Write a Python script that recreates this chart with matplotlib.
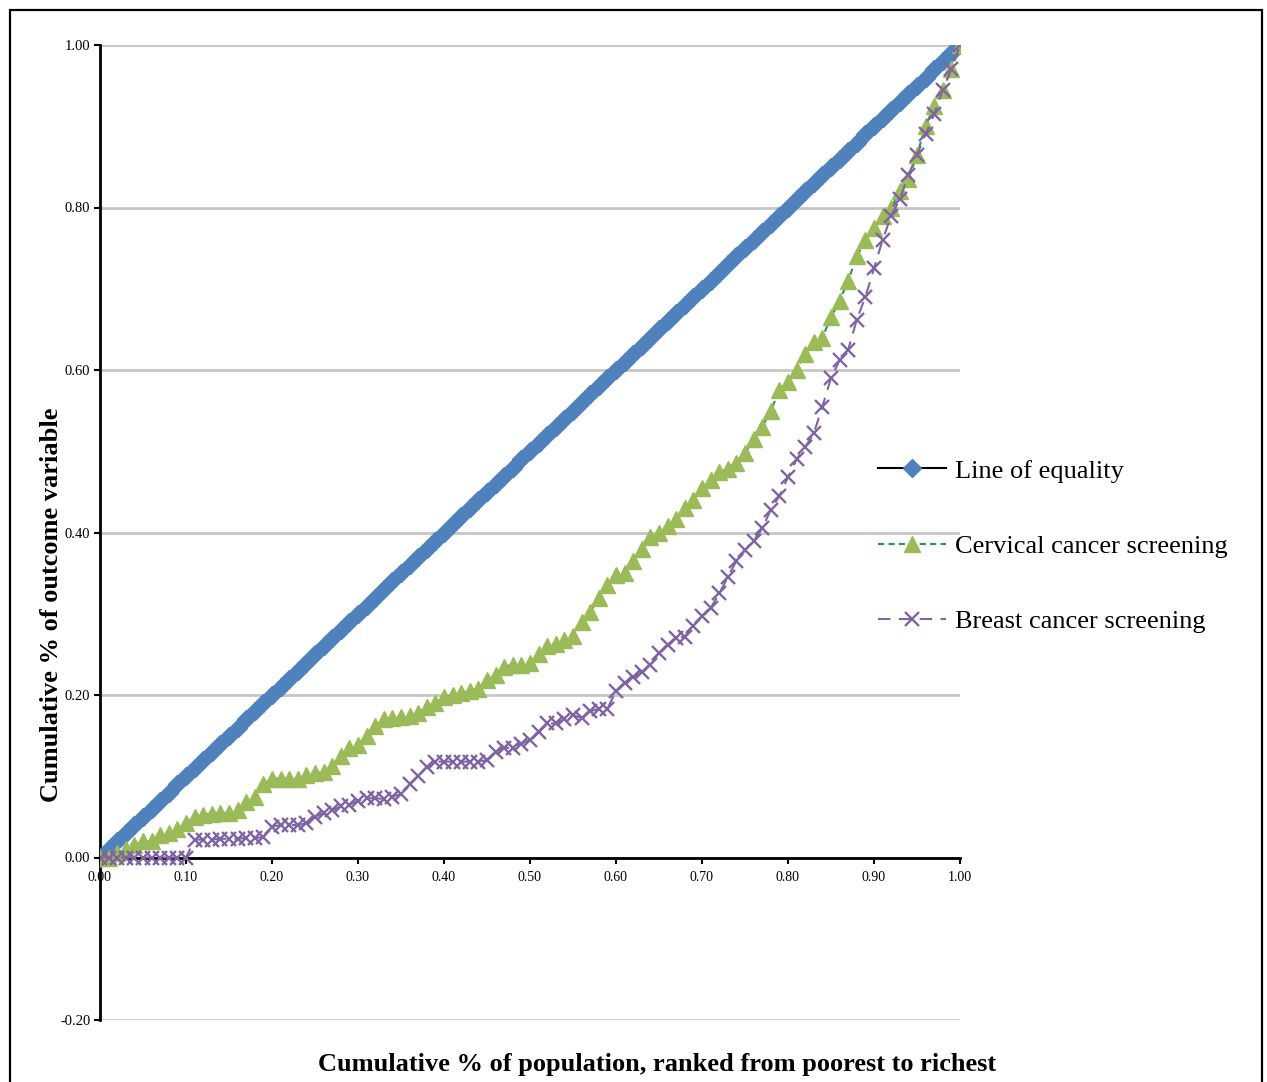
import matplotlib
matplotlib.use("Agg")
import matplotlib.pyplot as plt
from matplotlib.patches import Rectangle

# === DATA ===
# cumulative share of population (0.00 .. 1.00 in steps of 0.01)
bevoelkerung = [i / 100 for i in range(101)]

gleichheit = list(bevoelkerung)

cervical = [
    0.000, 0.000, 0.005, 0.010, 0.015, 0.020, 0.020, 0.028, 0.030, 0.035,
    0.042, 0.050, 0.052, 0.054, 0.055, 0.055, 0.058, 0.068, 0.075, 0.090,
    0.097, 0.097, 0.097, 0.097, 0.102, 0.104, 0.105, 0.113, 0.125, 0.135,
    0.138, 0.150, 0.162, 0.170, 0.172, 0.173, 0.174, 0.178, 0.185, 0.190,
    0.197, 0.200, 0.202, 0.205, 0.207, 0.218, 0.225, 0.235, 0.237, 0.237,
    0.240, 0.250, 0.260, 0.263, 0.268, 0.273, 0.290, 0.302, 0.320, 0.335,
    0.348, 0.350, 0.365, 0.380, 0.395, 0.400, 0.408, 0.417, 0.430, 0.440,
    0.455, 0.465, 0.475, 0.478, 0.485, 0.498, 0.515, 0.530, 0.550, 0.575,
    0.585, 0.600, 0.620, 0.635, 0.640, 0.665, 0.685, 0.710, 0.740, 0.760,
    0.775, 0.790, 0.800, 0.820, 0.835, 0.865, 0.900, 0.925, 0.945, 0.970,
    1.000,
]

breast = [
    0.000, 0.000, 0.000, 0.000, 0.000, 0.000, 0.000, 0.000, 0.000, 0.000,
    0.000, 0.022, 0.022, 0.022, 0.023, 0.023, 0.023, 0.024, 0.024, 0.025,
    0.038, 0.040, 0.040, 0.040, 0.042, 0.050, 0.055, 0.058, 0.063, 0.065,
    0.070, 0.073, 0.073, 0.072, 0.075, 0.078, 0.090, 0.100, 0.112, 0.118,
    0.118, 0.118, 0.118, 0.118, 0.118, 0.120, 0.130, 0.135, 0.135, 0.140,
    0.145, 0.155, 0.165, 0.165, 0.170, 0.175, 0.172, 0.180, 0.183, 0.183,
    0.205, 0.215, 0.222, 0.228, 0.237, 0.252, 0.262, 0.270, 0.272, 0.285,
    0.297, 0.307, 0.325, 0.345, 0.365, 0.378, 0.390, 0.405, 0.428, 0.445,
    0.468, 0.490, 0.505, 0.522, 0.555, 0.590, 0.612, 0.625, 0.662, 0.690,
    0.725, 0.760, 0.790, 0.810, 0.840, 0.865, 0.890, 0.915, 0.945, 0.970,
    1.000,
]

x_ticks = [0.0, 0.1, 0.2, 0.3, 0.4, 0.5, 0.6, 0.7, 0.8, 0.9, 1.0]
y_ticks = [-0.2, 0.0, 0.2, 0.4, 0.6, 0.8, 1.0]

plt.rcParams['font.family'] = ['Liberation Serif', 'DejaVu Serif']

W, H = 1267, 1082
fig = plt.figure(figsize=(W / 100, H / 100), dpi=100)
ax = fig.add_axes([100 / W, 1 - 1020 / H, 860 / W, 975 / H])

# outer frame of the chart area
fig.patches.append(Rectangle((10 / W, -0.01), 1252 / W, 1 - 10 / H + 0.01,
                             transform=fig.transFigure, fill=False,
                             edgecolor='black', linewidth=1.6))

# --- Kurven ---
ax.plot(bevoelkerung, gleichheit, color='black', linewidth=1.5,
        marker='D', markersize=9.5, markerfacecolor='#4F81BD',
        markeredgecolor='#4F81BD', label='Line of equality', zorder=3)
ax.plot(bevoelkerung, cervical, color='#1E9A5A', linewidth=1.5,
        linestyle=(0, (3, 2)), marker='^', markersize=11,
        markerfacecolor='#9BBB59', markeredgecolor='#9BBB59',
        label='Cervical cancer screening', zorder=4)
ax.plot(bevoelkerung, breast, color='#8064A2', linewidth=1.5,
        linestyle=(0, (6, 4)), marker='x', markersize=10, markeredgewidth=1.7,
        markerfacecolor='#8064A2', markeredgecolor='#8064A2',
        label='Breast cancer screening', zorder=5)

# --- Achsen ---
ax.set_xlim(0, 1)
ax.set_ylim(-0.2, 1.0)
ax.set_xticks(x_ticks)
ax.set_yticks(y_ticks)
ax.set_xticklabels([f'{v:.2f}' for v in x_ticks], fontsize=11)
ax.set_yticklabels([f'{v:.2f}' for v in y_ticks], fontsize=10.5)

ax.spines['top'].set_visible(False)
ax.spines['right'].set_visible(False)
ax.spines['left'].set_linewidth(2)
ax.spines['bottom'].set_linewidth(2)
ax.spines['bottom'].set_position(('data', 0))
ax.spines['bottom'].set_zorder(2)
ax.tick_params(axis='both', direction='out', length=4, width=1.5, pad=3)
ax.tick_params(axis='x', pad=6)

ax.grid(axis='y', color='#C6C6C6', linewidth=2)
ax.set_axisbelow(True)

# Beschriftung
fig.text(52 / W, 1 - 605 / H, 'Cumulative % of outcome variable',
         rotation=90, ha='center', va='center', fontsize=19,
         fontweight='bold')
fig.text(657 / W, 1 - 1064 / H,
         'Cumulative % of population, ranked from poorest to richest',
         ha='center', va='center', fontsize=19, fontweight='bold')

leg = ax.legend(loc='center left', bbox_to_anchor=(878 / W, 1 - 546 / H),
                bbox_transform=fig.transFigure, frameon=False, fontsize=19,
                handlelength=2.58, handletextpad=0.34, labelspacing=1.96,
                borderpad=0, borderaxespad=0)

plt.savefig('out.png', dpi=100)
